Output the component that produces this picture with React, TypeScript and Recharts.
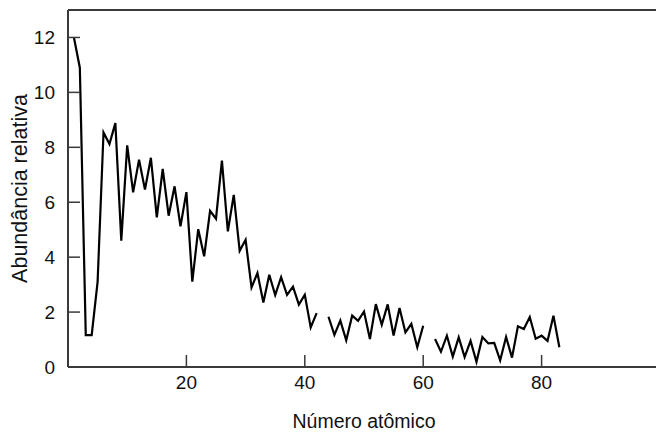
import React from "react";
import { LineChart, Line, XAxis, YAxis, ReferenceLine, Label } from "recharts";

if (typeof document !== "undefined") {
  document.body.style.margin = "0";
}

const atomicNumbers: number[] = Array.from({ length: 83 }, (_, i) => i + 1);

const abundance: (number | null)[] = [
  12.0, 10.9, 1.16, 1.16, 3.1, 8.54, 8.12, 8.88, 4.6, 8.07,
  6.36, 7.55, 6.46, 7.62, 5.45, 7.21, 5.51, 6.58, 5.12, 6.37,
  3.11, 5.02, 4.03, 5.69, 5.4, 7.52, 4.94, 6.27, 4.23, 4.63,
  2.9, 3.42, 2.35, 3.36, 2.62, 3.27, 2.63, 2.93, 2.27, 2.63,
  1.44, 1.96, null, 1.83, 1.17, 1.69, 0.97, 1.87, 1.68, 2.02,
  1.02, 2.29, 1.54, 2.28, 1.15, 2.15, 1.26, 1.57, 0.72, 1.5,
  null, 1.02, 0.56, 1.14, 0.38, 1.08, 0.36, 0.95, 0.19, 1.09,
  0.86, 0.88, 0.24, 1.09, 0.34, 1.48, 1.38, 1.82, 1.03, 1.14,
  0.95, 1.87, 0.72,
];

const xTicks: number[] = [20, 40, 60, 80];
const yTicks: number[] = [0, 2, 4, 6, 8, 10, 12];

const data = atomicNumbers.map((z, i) => ({ z, v: abundance[i] }));

const FONT = "'Liberation Sans', Arial, Helvetica, sans-serif";
const AXIS_COLOR = "#3a3a3a";

const YTick = (props: any) => {
  const { x, y, payload } = props;
  return (
    <g>
      <line x1={x + 13} x2={x + 25} y1={y} y2={y} stroke={AXIS_COLOR} strokeWidth={1.5} />
      <text x={x} y={y} dy="0.355em" textAnchor="end" fontSize={19} fontFamily={FONT} fill="#111">
        {payload.value}
      </text>
    </g>
  );
};

const XTick = (props: any) => {
  const { x, y, payload } = props;
  return (
    <g>
      <line x1={x} x2={x} y1={y - 9} y2={y - 21} stroke={AXIS_COLOR} strokeWidth={1.5} />
      <text x={x} y={y} dy="0.71em" textAnchor="middle" fontSize={19} fontFamily={FONT} fill="#111">
        {payload.value}
      </text>
    </g>
  );
};

export default function App() {
  return (
    <div style={{ width: 656, height: 433, overflow: "hidden", background: "#fff" }}>
      <LineChart width={660} height={433} data={data} margin={{ top: 10, right: 0, bottom: 0, left: 0 }}>
        <XAxis
          dataKey="z"
          type="number"
          domain={[0, 100]}
          ticks={xTicks}
          tickSize={0}
          tickMargin={9}
          tick={<XTick />}
          height={66}
          axisLine={{ stroke: AXIS_COLOR, strokeWidth: 2 }}
          tickLine={false}
        >
          <Label
            value="Número atômico"
            position="center"
            dy={21}
            style={{ fontSize: 19.5, fontFamily: FONT, fill: "#111" }}
          />
        </XAxis>
        <YAxis
          type="number"
          domain={[0, 13]}
          ticks={yTicks}
          tickSize={0}
          tickMargin={13}
          tick={<YTick />}
          width={68}
          axisLine={{ stroke: AXIS_COLOR, strokeWidth: 2 }}
          tickLine={false}
        >
          <Label
            value="Abundância relativa"
            position="center"
            angle={-90}
            dx={-15}
            style={{ fontSize: 21.5, fontFamily: FONT, fill: "#111", textAnchor: "middle" }}
          />
        </YAxis>
        <ReferenceLine y={13} stroke={AXIS_COLOR} strokeWidth={2} />
        <Line
          dataKey="v"
          type="linear"
          stroke="#000"
          strokeWidth={2.2}
          dot={false}
          connectNulls={false}
          isAnimationActive={false}
        />
      </LineChart>
    </div>
  );
}
